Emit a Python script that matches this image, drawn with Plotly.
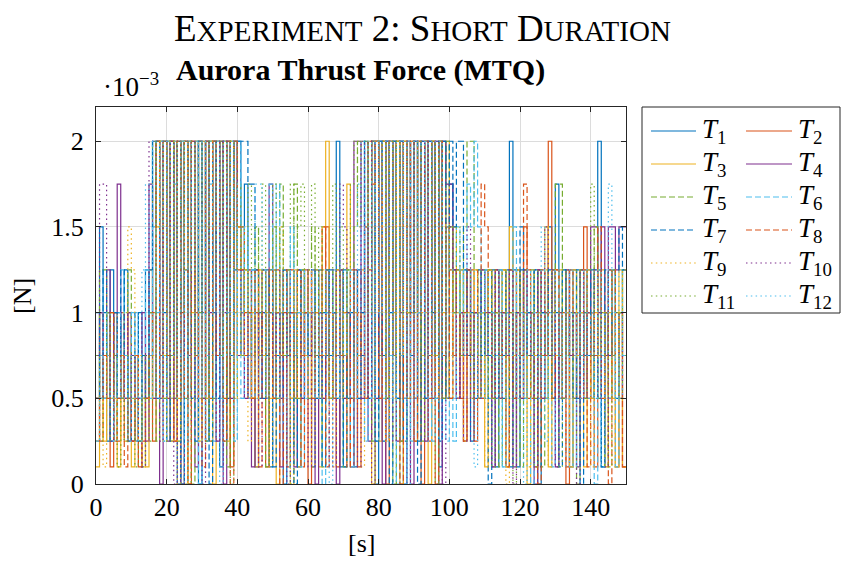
import plotly.graph_objects as go

# Thrust commands per thruster, in units of 1e-3 N, one value per 1 s sample (t = 0 .. 149 s)
T1 = [0.5, 1.5, 1.0, 0.25, 1.25, 0.75, 1.0, 0.5, 1.25, 0.25,
      0.75, 0.25, 1.0, 0.5, 1.25, 0.75, 2.0, 0.5, 2.0, 1.0,
      2.0, 0.25, 2.0, 0.0, 2.0, 1.25, 2.0, 0.5, 2.0, 0.0,
      2.0, 0.25, 2.0, 1.0, 2.0, 0.1, 2.0, 0.5, 2.0, 1.25,
      2.0, 0.75, 1.75, 0.5, 1.25, 0.1, 1.0, 0.5, 1.25, 0.1,
      1.25, 0.75, 1.0, 0.0, 1.25, 0.5, 1.0, 0.1, 1.25, 0.75,
      1.0, 0.1, 1.25, 0.5, 1.0, 0.75, 1.25, 0.5, 2.0, 0.1,
      1.25, 0.5, 1.0, 0.1, 1.25, 0.75, 2.0, 0.5, 2.0, 0.0,
      2.0, 0.25, 2.0, 1.0, 2.0, 0.5, 2.0, 0.0, 2.0, 0.75,
      2.0, 0.25, 2.0, 0.5, 2.0, 1.0, 2.0, 0.1, 2.0, 0.5,
      1.75, 1.25, 0.5, 1.25, 0.75, 1.25, 0.25, 1.0, 1.25, 0.5,
      1.25, 0.75, 1.0, 0.1, 1.25, 0.5, 1.0, 2.0, 1.25, 0.1,
      1.25, 0.5, 1.0, 0.75, 1.25, 0.0, 1.0, 0.5, 1.5, 0.75,
      1.75, 0.5, 1.25, 1.0, 0.1, 1.25, 0.5, 1.0, 0.75, 1.25,
      0.5, 1.25, 2.0, 0.1, 1.0, 0.75, 1.25, 0.5, 1.0, 1.25]

T2 = [0.25, 1.0, 0.5, 0.75, 0.1, 1.0, 0.25, 0.75, 0.5, 1.0,
      0.25, 0.5, 0.1, 0.75, 0.5, 1.0, 0.25, 2.0, 0.75, 2.0,
      0.5, 2.0, 0.25, 2.0, 1.0, 2.0, 0.0, 2.0, 0.75, 2.0,
      0.5, 2.0, 0.25, 2.0, 0.75, 2.0, 0.5, 2.0, 0.1, 2.0,
      1.25, 1.5, 1.0, 1.25, 0.5, 1.0, 0.75, 1.25, 0.1, 1.0,
      0.5, 1.25, 0.75, 1.0, 0.1, 1.25, 0.5, 1.0, 0.75, 1.25,
      0.0, 1.0, 0.5, 1.25, 0.75, 1.5, 0.5, 1.0, 0.1, 1.25,
      0.75, 1.0, 0.5, 1.25, 0.1, 1.0, 0.5, 1.25, 2.0, 2.0,
      0.5, 2.0, 0.0, 2.0, 0.75, 2.0, 0.25, 2.0, 1.0, 2.0,
      0.5, 2.0, 0.0, 2.0, 0.25, 2.0, 0.75, 2.0, 0.5, 1.5,
      1.25, 0.75, 1.25, 0.5, 1.0, 0.75, 1.25, 0.25, 1.0, 0.5,
      1.0, 1.25, 0.5, 1.0, 0.75, 1.25, 0.1, 1.0, 0.5, 1.25,
      0.75, 1.5, 0.5, 1.0, 0.1, 1.25, 0.75, 1.0, 2.0, 0.5,
      1.25, 0.75, 1.0, 0.0, 1.25, 0.5, 1.0, 0.75, 1.5, 0.5,
      1.0, 0.1, 1.25, 0.75, 1.0, 0.5, 1.25, 0.1, 1.0, 0.1]

T3 = [0.1, 0.75, 0.25, 1.0, 0.5, 0.75, 0.1, 1.0, 0.25, 0.5,
      0.1, 0.75, 0.25, 0.5, 0.1, 1.25, 0.5, 1.5, 2.0, 0.75,
      2.0, 0.25, 2.0, 0.5, 2.0, 0.0, 2.0, 1.0, 2.0, 0.25,
      2.0, 0.5, 2.0, 0.0, 2.0, 0.75, 2.0, 0.25, 2.0, 1.0,
      1.5, 1.0, 1.25, 0.5, 1.0, 0.1, 1.25, 0.75, 1.0, 0.5,
      1.25, 0.0, 1.0, 0.75, 1.25, 0.5, 1.0, 0.1, 1.25, 0.75,
      1.0, 0.5, 1.25, 0.1, 1.5, 2.0, 0.5, 1.0, 0.75, 1.25,
      0.5, 1.75, 0.1, 1.0, 0.75, 1.25, 0.5, 2.0, 0.0, 2.0,
      0.25, 2.0, 0.5, 2.0, 1.0, 2.0, 0.0, 2.0, 0.5, 2.0,
      0.25, 2.0, 0.75, 2.0, 0.0, 2.0, 0.5, 2.0, 1.0, 2.0,
      0.5, 1.5, 1.0, 1.25, 0.25, 1.0, 0.75, 1.25, 0.5, 1.0,
      0.1, 1.25, 0.75, 1.0, 0.5, 1.25, 0.1, 1.5, 0.75, 1.0,
      0.5, 1.25, 0.0, 1.0, 0.75, 1.25, 0.5, 1.5, 0.1, 1.0,
      0.75, 1.25, 0.5, 1.0, 0.1, 1.25, 0.75, 1.0, 0.1, 1.25,
      0.5, 1.0, 0.75, 1.25, 0.1, 1.0, 0.5, 0.1, 1.25, 0.1]

T4 = [0.75, 1.0, 0.5, 1.25, 0.25, 1.0, 1.75, 0.75, 0.5, 1.0,
      0.25, 0.75, 0.5, 1.0, 0.25, 1.75, 0.5, 2.0, 0.0, 2.0,
      0.25, 2.0, 0.5, 2.0, 0.0, 2.0, 0.75, 2.0, 0.1, 2.0,
      0.5, 2.0, 1.0, 2.0, 0.25, 2.0, 0.0, 2.0, 0.5, 2.0,
      0.75, 1.25, 0.5, 1.0, 0.1, 1.25, 0.75, 1.0, 0.5, 1.75,
      0.5, 1.0, 0.1, 1.25, 0.75, 1.0, 0.1, 1.25, 0.5, 1.0,
      0.75, 1.25, 0.0, 1.0, 0.5, 1.25, 0.75, 1.0, 0.0, 1.25,
      0.5, 1.0, 0.1, 2.0, 2.0, 0.5, 1.5, 0.25, 2.0, 0.5,
      2.0, 0.0, 2.0, 0.75, 2.0, 0.25, 2.0, 0.5, 2.0, 0.0,
      2.0, 1.0, 2.0, 0.25, 2.0, 0.5, 2.0, 0.0, 2.0, 1.75,
      1.75, 1.25, 0.5, 1.0, 0.25, 1.25, 0.75, 1.0, 0.5, 1.25,
      0.75, 1.0, 0.1, 1.25, 0.5, 1.0, 0.75, 1.25, 0.1, 1.0,
      0.5, 1.25, 0.75, 1.0, 0.0, 1.25, 0.5, 1.0, 0.75, 1.25,
      0.1, 1.0, 0.5, 1.25, 0.75, 1.0, 0.1, 1.25, 0.5, 1.0,
      1.5, 1.5, 1.0, 1.5, 0.75, 1.5, 1.5, 1.25, 1.5, 1.5]

T5 = [0.5, 1.25, 1.25, 0.75, 1.0, 0.25, 0.75, 0.5, 1.0, 1.25,
      0.5, 0.25, 0.75, 0.1, 0.5, 1.0, 2.0, 0.25, 2.0, 0.5,
      2.0, 0.75, 2.0, 0.25, 2.0, 0.5, 2.0, 0.0, 2.0, 1.0,
      2.0, 0.25, 2.0, 0.5, 2.0, 0.75, 2.0, 0.1, 2.0, 0.5,
      1.75, 0.75, 1.25, 1.0, 0.5, 1.5, 0.75, 1.25, 0.1, 1.0,
      1.5, 0.5, 1.75, 0.75, 1.0, 0.0, 1.75, 0.5, 1.25, 1.0,
      0.5, 1.5, 0.75, 1.25, 0.1, 1.0, 0.5, 1.25, 0.75, 1.0,
      0.1, 1.25, 0.5, 1.5, 2.0, 2.0, 1.5, 2.0, 0.25, 2.0,
      0.75, 2.0, 0.5, 2.0, 0.0, 2.0, 0.25, 2.0, 1.0, 2.0,
      0.5, 2.0, 0.25, 2.0, 0.75, 2.0, 0.0, 2.0, 0.5, 2.0,
      1.5, 1.0, 1.25, 0.75, 1.5, 2.0, 2.0, 1.25, 0.5, 1.0,
      0.75, 1.25, 0.5, 1.0, 0.1, 1.25, 0.75, 1.0, 0.5, 1.25,
      0.1, 1.0, 0.75, 1.25, 0.5, 1.0, 0.1, 1.25, 0.75, 1.0,
      1.75, 1.75, 0.5, 1.25, 0.75, 1.0, 0.0, 1.25, 0.5, 1.0,
      0.75, 1.5, 0.5, 1.0, 0.1, 1.25, 0.75, 1.0, 0.5, 1.25]

T6 = [0.25, 0.75, 0.5, 1.0, 0.25, 0.75, 0.5, 1.25, 0.75, 0.5,
      1.0, 0.25, 0.5, 0.75, 1.25, 0.5, 1.5, 1.0, 2.0, 0.25,
      2.0, 0.5, 1.75, 0.75, 2.0, 0.25, 1.75, 0.5, 2.0, 0.0,
      2.0, 0.75, 1.75, 0.25, 2.0, 0.5, 2.0, 1.0, 2.0, 0.25,
      2.0, 0.5, 1.5, 0.75, 1.25, 0.5, 1.0, 1.25, 0.75, 1.75,
      0.5, 1.75, 0.25, 1.25, 0.75, 1.5, 0.5, 1.0, 0.1, 1.25,
      0.75, 1.0, 0.5, 1.25, 0.0, 1.0, 0.75, 1.25, 0.5, 1.0,
      0.75, 1.25, 0.1, 1.0, 0.5, 1.75, 0.25, 0.5, 2.0, 0.25,
      2.0, 0.5, 2.0, 0.75, 2.0, 0.0, 2.0, 0.5, 2.0, 0.25,
      2.0, 1.0, 2.0, 0.5, 2.0, 0.25, 0.5, 0.25, 0.5, 0.25,
      0.5, 0.25, 1.5, 1.0, 1.25, 1.75, 1.5, 2.0, 1.5, 1.0,
      1.25, 0.5, 1.0, 0.75, 1.25, 0.1, 1.0, 0.5, 1.5, 0.75,
      1.0, 0.5, 1.25, 0.0, 1.0, 0.75, 1.25, 0.5, 1.0, 0.1,
      1.25, 0.75, 1.0, 0.5, 1.25, 0.1, 1.0, 0.75, 1.25, 0.5,
      1.0, 0.0, 1.25, 0.75, 1.0, 0.5, 1.25, 0.1, 1.0, 0.75]

T7 = [1.0, 0.5, 1.25, 0.75, 0.25, 1.0, 0.5, 1.25, 0.75, 0.25,
      0.5, 1.0, 0.25, 0.75, 0.5, 1.25, 2.0, 2.0, 0.5, 2.0,
      0.25, 2.0, 0.75, 2.0, 0.0, 2.0, 0.5, 2.0, 0.25, 2.0,
      1.0, 2.0, 0.0, 2.0, 0.5, 2.0, 0.25, 2.0, 0.75, 2.0,
      2.0, 2.0, 2.0, 1.75, 1.75, 1.25, 0.5, 1.0, 0.75, 1.25,
      0.1, 1.0, 0.5, 1.25, 0.75, 1.0, 0.0, 1.25, 0.5, 1.0,
      0.75, 1.25, 0.5, 1.0, 0.1, 1.25, 0.75, 1.0, 0.5, 1.25,
      0.1, 1.0, 0.75, 1.25, 0.5, 1.0, 2.0, 0.5, 2.0, 0.25,
      2.0, 0.75, 2.0, 0.0, 2.0, 0.5, 2.0, 0.25, 2.0, 1.0,
      2.0, 0.0, 2.0, 0.5, 2.0, 0.75, 2.0, 0.25, 2.0, 0.5,
      2.0, 1.5, 2.0, 2.0, 1.25, 0.75, 1.0, 0.5, 1.25, 0.75,
      1.0, 0.0, 1.25, 0.5, 1.0, 0.75, 1.25, 0.1, 1.0, 0.5,
      1.5, 0.75, 1.0, 0.5, 1.25, 0.1, 1.0, 0.75, 1.25, 0.5,
      1.0, 0.1, 1.25, 0.75, 1.0, 0.5, 1.25, 0.0, 1.0, 0.75,
      1.25, 0.5, 1.0, 0.1, 1.25, 0.75, 1.0, 1.25, 1.5, 1.25]

T8 = [0.5, 0.25, 0.75, 0.5, 1.0, 0.25, 0.5, 0.75, 0.1, 0.5,
      0.25, 0.75, 0.1, 0.25, 0.5, 0.75, 1.0, 2.0, 0.5, 2.0,
      0.75, 2.0, 0.25, 2.0, 0.5, 2.0, 0.0, 2.0, 1.0, 0.5,
      0.1, 2.0, 0.5, 2.0, 0.75, 2.0, 0.25, 2.0, 0.0, 2.0,
      1.5, 1.25, 0.75, 1.0, 0.5, 1.25, 0.1, 1.0, 0.75, 1.25,
      0.5, 1.0, 0.0, 1.25, 0.75, 1.0, 0.5, 1.25, 0.1, 1.0,
      1.25, 0.5, 1.0, 0.75, 1.5, 0.1, 1.0, 0.5, 1.25, 0.75,
      1.0, 0.1, 1.25, 0.5, 1.0, 0.75, 0.5, 2.0, 1.75, 2.0,
      0.5, 2.0, 0.25, 2.0, 0.75, 2.0, 0.0, 2.0, 0.5, 2.0,
      0.25, 2.0, 1.0, 2.0, 0.5, 2.0, 0.0, 2.0, 0.75, 1.5,
      0.5, 1.25, 0.75, 1.0, 0.25, 1.25, 0.5, 1.0, 1.25, 1.75,
      1.5, 1.0, 0.5, 1.25, 0.75, 1.0, 0.1, 1.25, 0.5, 1.0,
      0.75, 1.75, 1.25, 0.5, 1.0, 0.0, 1.25, 0.75, 1.0, 0.5,
      1.25, 0.5, 1.0, 0.1, 1.25, 0.75, 1.0, 0.5, 1.25, 0.1,
      1.0, 0.75, 1.5, 0.5, 1.0, 0.0, 1.25, 0.75, 1.0, 0.1]

T9 = [0.25, 0.5, 0.1, 0.75, 0.25, 0.5, 0.1, 0.75, 0.5, 1.5,
      1.25, 0.25, 0.75, 0.1, 0.25, 0.5, 0.75, 1.5, 2.0, 0.25,
      2.0, 0.5, 2.0, 0.0, 2.0, 1.25, 2.0, 0.5, 2.0, 0.25,
      2.0, 1.5, 2.0, 1.5, 2.0, 1.25, 2.0, 1.75, 2.0, 0.5,
      1.5, 0.75, 1.25, 0.25, 1.0, 0.5, 1.25, 0.75, 1.0, 0.1,
      1.25, 0.5, 1.5, 0.75, 1.0, 0.0, 1.25, 0.5, 1.0, 0.75,
      1.25, 0.1, 1.0, 0.5, 1.25, 0.75, 1.0, 0.1, 1.25, 0.5,
      1.0, 0.75, 1.25, 0.5, 1.0, 0.1, 1.5, 2.0, 0.5, 2.0,
      1.0, 2.0, 0.25, 2.0, 0.5, 2.0, 0.75, 2.0, 1.0, 1.0,
      1.0, 1.0, 1.0, 1.0, 0.75, 0.75, 0.75, 0.5, 0.5, 0.5,
      0.75, 1.0, 0.5, 1.25, 0.25, 1.0, 0.75, 1.25, 0.5, 1.0,
      0.1, 1.25, 0.75, 1.0, 0.5, 1.25, 0.0, 1.0, 0.75, 1.25,
      0.5, 1.0, 0.1, 1.25, 0.75, 1.0, 0.5, 1.25, 0.1, 1.25,
      0.75, 1.0, 0.5, 1.25, 0.1, 1.0, 0.75, 1.25, 0.5, 1.0,
      0.1, 1.25, 0.75, 1.0, 0.5, 1.25, 0.1, 1.0, 0.75, 1.25]

T10 = [0.5, 1.75, 1.75, 1.0, 0.25, 0.75, 0.5, 1.0, 0.25, 0.5,
       0.75, 0.25, 0.5, 0.1, 0.75, 2.0, 2.0, 2.0, 0.25, 2.0,
       0.5, 2.0, 0.0, 2.0, 0.75, 2.0, 0.25, 2.0, 0.5, 2.0,
       0.0, 2.0, 0.75, 2.0, 0.25, 2.0, 1.0, 2.0, 0.5, 2.0,
       1.25, 1.0, 0.5, 1.25, 0.75, 1.0, 0.1, 1.25, 0.5, 1.0,
       0.75, 1.25, 0.5, 1.0, 0.0, 1.25, 0.75, 1.0, 0.5, 1.25,
       0.1, 1.0, 0.75, 1.25, 0.5, 1.0, 0.1, 1.25, 0.75, 1.75,
       1.5, 1.0, 0.5, 1.25, 0.1, 2.0, 0.5, 2.0, 0.0, 2.0,
       0.75, 2.0, 0.5, 2.0, 0.25, 2.0, 1.0, 2.0, 0.0, 2.0,
       0.5, 2.0, 0.25, 2.0, 0.75, 2.0, 0.5, 2.0, 0.0, 1.75,
       1.5, 1.25, 0.5, 1.0, 0.75, 1.5, 0.25, 1.0, 0.5, 1.25,
       0.75, 1.0, 0.1, 1.25, 0.5, 1.0, 0.75, 1.25, 0.0, 1.0,
       0.5, 1.25, 0.75, 1.0, 0.1, 1.25, 0.5, 1.5, 0.75, 1.25,
       0.1, 1.0, 0.5, 1.25, 0.75, 1.0, 0.0, 1.25, 0.5, 1.0,
       0.75, 1.25, 0.5, 1.0, 0.1, 1.25, 0.75, 1.0, 0.5, 1.0]

T11 = [0.75, 0.25, 0.5, 1.0, 0.25, 0.75, 0.1, 0.5, 0.25, 0.75,
       0.5, 0.1, 0.25, 0.5, 0.75, 0.25, 1.0, 2.0, 1.5, 2.0,
       0.25, 2.0, 0.5, 2.0, 1.0, 2.0, 0.0, 2.0, 0.75, 2.0,
       0.5, 2.0, 0.25, 2.0, 1.25, 2.0, 0.5, 2.0, 0.0, 2.0,
       1.25, 1.5, 1.0, 1.75, 0.75, 1.5, 1.0, 1.75, 0.5, 1.25,
       1.75, 1.0, 1.5, 0.75, 1.25, 1.75, 0.5, 1.5, 1.75, 1.0,
       1.25, 1.75, 0.75, 1.5, 1.0, 1.25, 0.5, 1.75, 1.0, 1.5,
       0.75, 1.25, 1.75, 2.0, 1.5, 2.0, 2.0, 1.0, 2.0, 2.0,
       1.75, 2.0, 0.5, 2.0, 0.75, 2.0, 1.0, 2.0, 0.25, 2.0,
       1.0, 2.0, 0.5, 2.0, 1.25, 2.0, 0.75, 2.0, 0.5, 1.5,
       1.25, 1.0, 1.5, 0.75, 1.0, 1.25, 0.5, 1.0, 0.75, 1.25,
       0.5, 1.0, 0.1, 1.25, 0.75, 1.0, 0.5, 1.25, 0.0, 1.0,
       0.75, 1.25, 0.5, 1.0, 0.1, 1.25, 0.75, 1.0, 0.5, 1.25,
       1.0, 0.1, 1.25, 0.75, 1.0, 0.5, 1.25, 0.75, 1.0, 1.25,
       1.75, 0.5, 1.25, 0.75, 1.0, 0.1, 1.25, 0.5, 1.0, 0.75]

T12 = [0.25, 0.5, 1.0, 0.75, 0.5, 0.25, 1.0, 0.5, 0.75, 0.25,
       0.5, 1.0, 0.25, 1.25, 1.75, 0.75, 2.0, 0.5, 2.0, 0.25,
       2.0, 0.75, 2.0, 0.5, 2.0, 0.0, 2.0, 1.25, 2.0, 0.5,
       2.0, 0.25, 2.0, 1.0, 2.0, 0.0, 2.0, 0.75, 2.0, 0.25,
       1.75, 1.0, 1.25, 0.5, 1.0, 1.75, 1.75, 1.25, 0.5, 1.0,
       1.25, 0.5, 1.0, 1.25, 0.1, 1.5, 0.75, 1.0, 1.25, 0.5,
       1.0, 1.25, 0.5, 1.0, 0.75, 1.25, 0.0, 1.0, 0.5, 1.25,
       0.75, 1.0, 1.25, 0.5, 1.75, 2.0, 0.25, 2.0, 0.5, 2.0,
       1.0, 2.0, 0.25, 2.0, 0.5, 2.0, 0.75, 2.0, 0.0, 2.0,
       0.5, 2.0, 1.0, 2.0, 0.25, 2.0, 0.5, 2.0, 0.75, 1.5,
       1.25, 0.5, 1.0, 1.25, 0.75, 1.0, 1.25, 0.1, 1.0, 0.5,
       1.25, 0.75, 1.0, 0.5, 1.25, 0.1, 1.0, 0.75, 1.25, 0.5,
       1.0, 0.0, 1.25, 0.75, 1.0, 0.5, 1.5, 0.25, 1.0, 0.75,
       1.25, 0.5, 1.0, 0.1, 1.25, 0.75, 1.0, 0.5, 1.25, 0.75,
       1.0, 0.5, 1.25, 0.1, 1.0, 1.75, 1.0, 0.5, 1.25, 0.5]

SERIES = [T1, T2, T3, T4, T5, T6, T7, T8, T9, T10, T11, T12]
NAMES = ["T<sub>%d</sub>" % (k + 1) for k in range(12)]
SAMPLE_TIME = 1.0  # s

X_TICKS = [0, 20, 40, 60, 80, 100, 120, 140]
Y_TICKS = [0, 0.5, 1.0, 1.5, 2.0]
Y_TICK_TEXT = ["0", "0.5", "1", "1.5", "2"]

# MATLAB default line colour order, cycled with -, --, : line styles
COLORS = ["#0072BD", "#D95319", "#EDB120", "#7E2F8E",
          "#77AC30", "#4DBEEE", "#0072BD", "#D95319",
          "#EDB120", "#7E2F8E", "#77AC30", "#4DBEEE"]
DASHES = ["solid"] * 4 + ["6px,3px"] * 4 + ["1.5px,3.3px"] * 4

SERIF = "Liberation Serif"

fig = go.Figure()
for vals, name, col, dash in zip(SERIES, NAMES, COLORS, DASHES):
    t = [k * SAMPLE_TIME for k in range(len(vals) + 1)]
    y = list(vals) + [vals[-1]]
    fig.add_trace(go.Scatter(
        x=t, y=y, mode="lines", name=name, showlegend=False,
        line=dict(shape="hv", color=col, width=1.2, dash=dash),
        hoverinfo="skip"))

# plot area in pixels: x 96..626, y 107..484 (figure 841 x 561)
L, R, T, B = 96, 626, 107, 484
W, H = R - L, B - T


def px(xp):
    return (xp - L) / W


def py(yp):
    return (B - yp) / H


axis_common = dict(
    showline=True, linecolor="#262626", linewidth=1, mirror="ticks",
    ticks="inside", ticklen=5, tickcolor="#262626", tickwidth=1,
    showgrid=True, gridcolor="#dcdcdc", gridwidth=1, zeroline=False,
    tickfont=dict(family=SERIF, size=26, color="#000000"),
)

fig.update_xaxes(range=[0, 150], tickvals=X_TICKS, **axis_common)
fig.update_yaxes(range=[0, 2.2], tickvals=Y_TICKS, ticktext=Y_TICK_TEXT,
                 ticklabelstandoff=6, **axis_common)

sc = "font-size:29px"
title_html = ("E<span style='%s'>XPERIMENT</span> 2: S<span style='%s'>HORT</span> "
              "D<span style='%s'>URATION</span>") % (sc, sc, sc)

annotations = [
    dict(text=title_html, x=px(422), y=py(28), xref="paper", yref="paper",
         showarrow=False, xanchor="center", yanchor="middle",
         font=dict(family=SERIF, size=37, color="#000000")),
    dict(text="<b>Aurora Thrust Force (MTQ)</b>", x=px(360), y=py(70),
         xref="paper", yref="paper", showarrow=False, xanchor="center",
         yanchor="middle", font=dict(family=SERIF, size=30, color="#000000")),
    dict(text="·10<sup>−3</sup>", x=px(101), y=py(85), xref="paper", yref="paper",
         showarrow=False, xanchor="left", yanchor="middle",
         font=dict(family=SERIF, size=27, color="#000000")),
    dict(text="[N]", x=px(22), y=py(296), xref="paper", yref="paper",
         showarrow=False, textangle=-90, xanchor="center", yanchor="middle",
         font=dict(family=SERIF, size=26, color="#000000")),
    dict(text="[s]", x=px(361), y=py(543), xref="paper", yref="paper",
         showarrow=False, xanchor="center", yanchor="middle",
         font=dict(family=SERIF, size=26, color="#000000")),
]

# two-column legend drawn in paper coordinates
shapes = [dict(type="rect", xref="paper", yref="paper",
               x0=px(642), x1=px(840), y0=py(313), y1=py(107),
               line=dict(color="#262626", width=1), fillcolor="white", layer="above")]
row_y = [131, 164, 197, 230, 263, 296]
col_line = [(651, 696), (746, 792)]
col_text = [700, 796]
for k, (name, col, dash) in enumerate(zip(NAMES, COLORS, DASHES)):
    r, c = divmod(k, 2)
    yy = py(row_y[r])
    shapes.append(dict(type="line", xref="paper", yref="paper",
                       x0=px(col_line[c][0]), x1=px(col_line[c][1]), y0=yy, y1=yy,
                       line=dict(color=col, width=1.2, dash=dash), layer="above"))
    annotations.append(dict(text="<i>T</i><sub>%d</sub>" % (k + 1), x=px(col_text[c]), y=yy,
                            xref="paper", yref="paper", showarrow=False,
                            xanchor="left", yanchor="middle",
                            font=dict(family=SERIF, size=27, color="#000000")))

fig.update_layout(
    width=841, height=561,
    margin=dict(l=L, r=841 - R, t=T, b=561 - B),
    paper_bgcolor="white", plot_bgcolor="white",
    showlegend=False, annotations=annotations, shapes=shapes,
)

fig.write_html("out.html")
